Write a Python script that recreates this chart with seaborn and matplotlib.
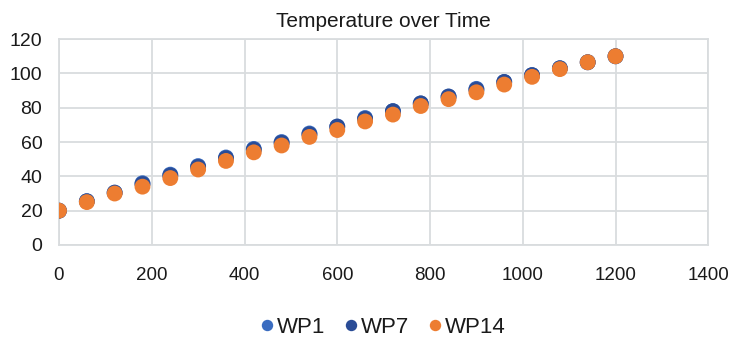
import pandas as pd
import matplotlib
matplotlib.use("Agg")
import matplotlib.pyplot as plt
import seaborn as sns

time = [0, 60, 120, 180, 240, 300, 360, 420, 480, 540, 600,
        660, 720, 780, 840, 900, 960, 1020, 1080, 1140, 1200]
wp1 = [20, 25.5, 30.5, 36, 41, 46, 51, 56, 60, 65, 69,
       74, 78, 82.5, 86.5, 91, 95, 99, 103, 106.5, 110]
wp7 = [20, 25.5, 30.5, 35.5, 40.5, 45.5, 50.5, 55.5, 59.5, 64.5, 69,
       73.5, 78, 82.5, 86.5, 90.5, 95, 99, 103, 106.5, 110]
wp14 = [20, 25, 30, 34, 39, 44, 49, 54, 58, 63, 67,
        72, 76, 81, 85, 89, 93.5, 98, 102.5, 106.5, 110]
series = ["WP1", "WP7", "WP14"]
colors = ["#3a6cc0", "#2a4c96", "#ED7D31"]

df = pd.DataFrame({
    "Time": time * 3,
    "Temperature": wp1 + wp7 + wp14,
    "Probe": ["WP1"] * len(time) + ["WP7"] * len(time) + ["WP14"] * len(time),
})

sns.set_style("white")
plt.rcParams["font.family"] = ["Liberation Sans", "DejaVu Sans"]
grid_c = "#d9dcde"
text_c = "#1a1a1a"

fig = plt.figure(figsize=(7.32, 3.37), dpi=100)
ax = fig.add_axes([0.0806, 0.273, 0.887, 0.611])
sns.scatterplot(data=df, x="Time", y="Temperature", hue="Probe",
                hue_order=series, palette=colors, s=130, linewidth=0,
                ax=ax, zorder=3)

ax.set_xlim(0, 1400)
ax.set_ylim(0, 120)
ax.set_xticks(range(0, 1401, 200))
ax.set_yticks(range(0, 121, 20))
ax.grid(True, color=grid_c, linewidth=1.3)
ax.set_axisbelow(True)
for sp in ax.spines.values():
    sp.set_color(grid_c)
    sp.set_linewidth(1.3)
ax.tick_params(axis="x", length=0, pad=16, labelsize=13.5, labelcolor=text_c)
ax.tick_params(axis="y", length=0, pad=12, labelsize=14, labelcolor=text_c)
ax.set_xlabel("")
ax.set_ylabel("")
ax.set_title("Temperature over Time", fontsize=15, color=text_c, pad=9)

sns.move_legend(ax, "center", bbox_to_anchor=(0.5, -0.4), ncol=3,
                frameon=False, title=None, fontsize=16, handlelength=0.5,
                handletextpad=0.2, columnspacing=0.9, markerscale=0.72,
                borderpad=0.1)
for t in ax.get_legend().get_texts():
    t.set_color(text_c)

fig.savefig("out.png", dpi=100)
